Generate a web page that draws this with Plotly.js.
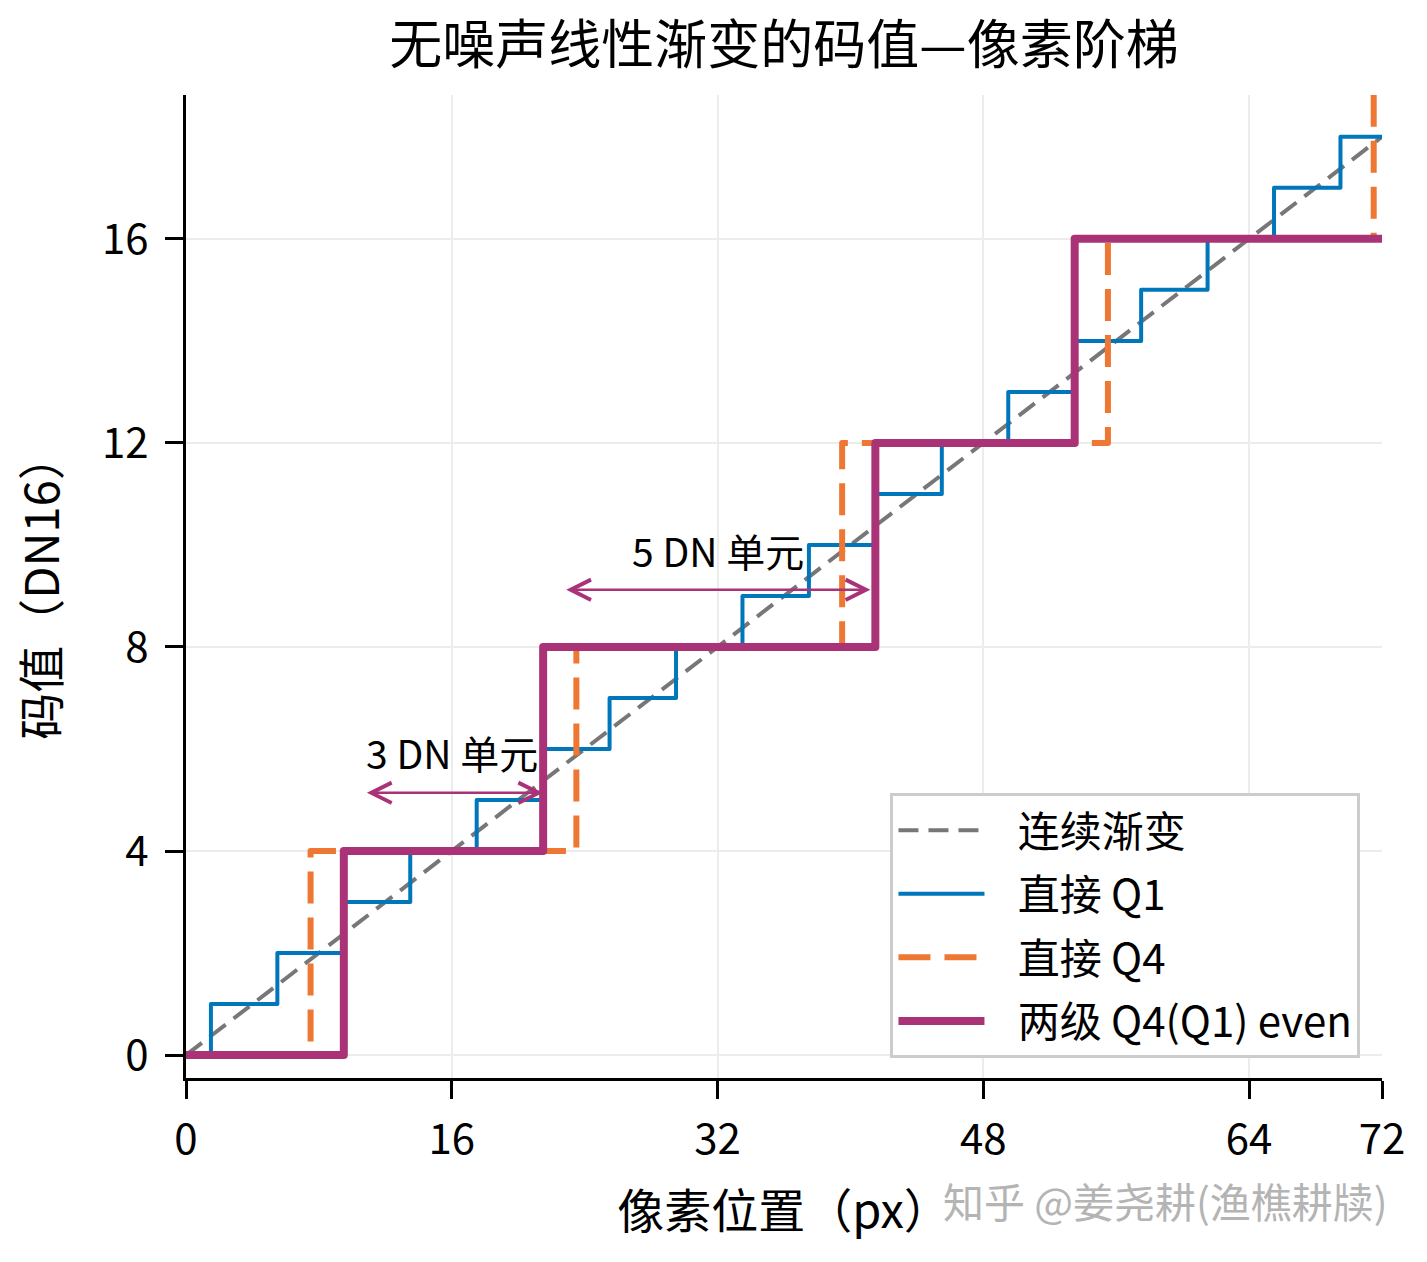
<!DOCTYPE html>
<html>
<head>
<meta charset="utf-8">
<script src="https://cdn.plot.ly/plotly-3.0.1.min.js"></script>
<style>
  html, body { margin: 0; padding: 0; background: #fff; }
  .scatterlayer .js-line { stroke-linejoin: round; }
</style>
</head>
<body>
<div id="chart" style="width:1427px;height:1262px;"></div>
<script>
// continuous ramp (dashed grey)
var rampX = [0, 72];
var rampY = [0, 18];

// direct Q1: step positions and code values
var q1X = [0, 1.5, 5.5, 9.5, 13.5, 17.5, 21.5, 25.5, 29.5, 33.5, 37.5,
           41.5, 45.5, 49.5, 53.5, 57.5, 61.5, 65.5, 69.5, 72];
var q1Y = [0, 1, 2, 3, 4, 5, 6, 7, 8, 9, 10,
           11, 12, 13, 14, 15, 16, 17, 18, 18];

// direct Q4
var q4X = [0, 7.5, 23.5, 39.5, 55.5, 71.5, 72];
var q4Y = [0, 4, 8, 12, 16, 20, 20];

// two stage Q4(Q1), round half to even
var twoX = [0, 9.5, 21.5, 41.5, 53.5, 72];
var twoY = [0, 4, 8, 12, 16, 16];

var seriesNames = ['连续渐变', '直接 Q1', '直接 Q4', '两级 Q4(Q1) even'];

var xTicks = [0, 16, 32, 48, 64, 72];
var yTicks = [0, 4, 8, 12, 16];

// span annotations
var spanLabels = ['3 DN 单元', '5 DN 单元'];
var spanTextX = [16, 32];
var spanTextY = [5.95, 9.9];
var spanFrom = [10.8, 22.8];
var spanTo = [21.5, 41.2];
var spanY = [5.14, 9.12];

var FONT = '"Noto Sans CJK SC", "Noto Sans", sans-serif';
var MAGENTA = '#aa3377';
var PAD = '\u00a0\u00a0\u00a0';   // gap between legend sample and text

var traces = [
    {x: rampX, y: rampY, name: seriesNames[0], legendgroup: 'a',
     line: {color: '#777777', width: 4, dash: '20px,10px'}},
    {x: q1X, y: q1Y, name: seriesNames[1], legendgroup: 'b',
     line: {color: '#0077bb', width: 4, shape: 'hv'}},
    {x: q4X, y: q4Y, name: seriesNames[2], legendgroup: 'c',
     line: {color: '#ee7733', width: 6, shape: 'hv', dash: '32px,14px'}},
    {x: twoX, y: twoY, name: seriesNames[3], legendgroup: 'd',
     line: {color: MAGENTA, width: 8, shape: 'hv'}}
];
traces.forEach(function (t) {
    t.type = 'scatter';
    t.mode = 'lines';
    t.hoverinfo = 'skip';
    t.name = PAD + t.name;
});

var annotations = [];
for (var i = 0; i < spanLabels.length; i++) {
    annotations.push({
        x: spanTo[i], y: spanY[i], ax: spanFrom[i], ay: spanY[i],
        xref: 'x', yref: 'y', axref: 'x', ayref: 'y',
        text: '', showarrow: true, arrowside: 'end+start',
        arrowhead: 5, startarrowhead: 5,
        arrowsize: 1.6, startarrowsize: 1.6, arrowwidth: 2.5,
        arrowcolor: MAGENTA, standoff: 0, startstandoff: 0
    });
    annotations.push({
        x: spanTextX[i], y: spanTextY[i], xref: 'x', yref: 'y',
        text: spanLabels[i], showarrow: false,
        font: {family: FONT, size: 39, color: '#000'}
    });
}
// watermark
annotations.push({
    x: 1.0067, y: -0.124, xref: 'paper', yref: 'paper',
    xanchor: 'right', yanchor: 'middle',
    text: '知乎 @姜尧耕(渔樵耕牍)', showarrow: false,
    font: {family: FONT, size: 41, color: '#b4b4b4'}
});

var axisCommon = {
    ticks: 'outside', ticklen: 18, tickwidth: 3, tickcolor: '#000',
    showline: true, linewidth: 3, linecolor: '#000', mirror: false,
    showgrid: true, gridcolor: '#ececec', gridwidth: 1.5,
    zeroline: false, automargin: false, fixedrange: true,
    tickfont: {family: FONT, size: 42, color: '#000'}
};

var layout = {
    width: 1427, height: 1262,
    margin: {l: 186, r: 45, t: 95, b: 184},
    paper_bgcolor: '#fff', plot_bgcolor: '#fff',
    font: {family: FONT, color: '#000'},
    title: {
        text: '无噪声线性渐变的码值—像素阶梯',
        font: {family: FONT, size: 53, color: '#000'},
        x: 0.5, xref: 'paper', xanchor: 'center',
        y: 1 - 45 / 1262, yref: 'container', yanchor: 'middle'
    },
    xaxis: Object.assign({}, axisCommon, {
        range: [0, 72], tickvals: xTicks, ticktext: xTicks.map(String),
        ticklabelstandoff: 5,
        title: {text: '像素位置（px）', standoff: 30,
                font: {family: FONT, size: 47, color: '#000'}}
    }),
    yaxis: Object.assign({}, axisCommon, {
        range: [-0.45, 18.82], tickvals: yTicks, ticktext: yTicks.map(String),
        ticklabelstandoff: 8,
        title: {text: '码值（DN16）', standoff: 28,
                font: {family: FONT, size: 47, color: '#000'}}
    }),
    legend: {
        x: 0.982, y: 0.02, xanchor: 'right', yanchor: 'bottom',
        bgcolor: '#fff', bordercolor: '#cccccc', borderwidth: 3,
        font: {family: FONT, size: 42, color: '#000'},
        itemwidth: 86, tracegroupgap: 6
    },
    showlegend: true,
    annotations: annotations
};

Plotly.newPlot('chart', traces, layout, {displayModeBar: false, responsive: false});
</script>
</body>
</html>
